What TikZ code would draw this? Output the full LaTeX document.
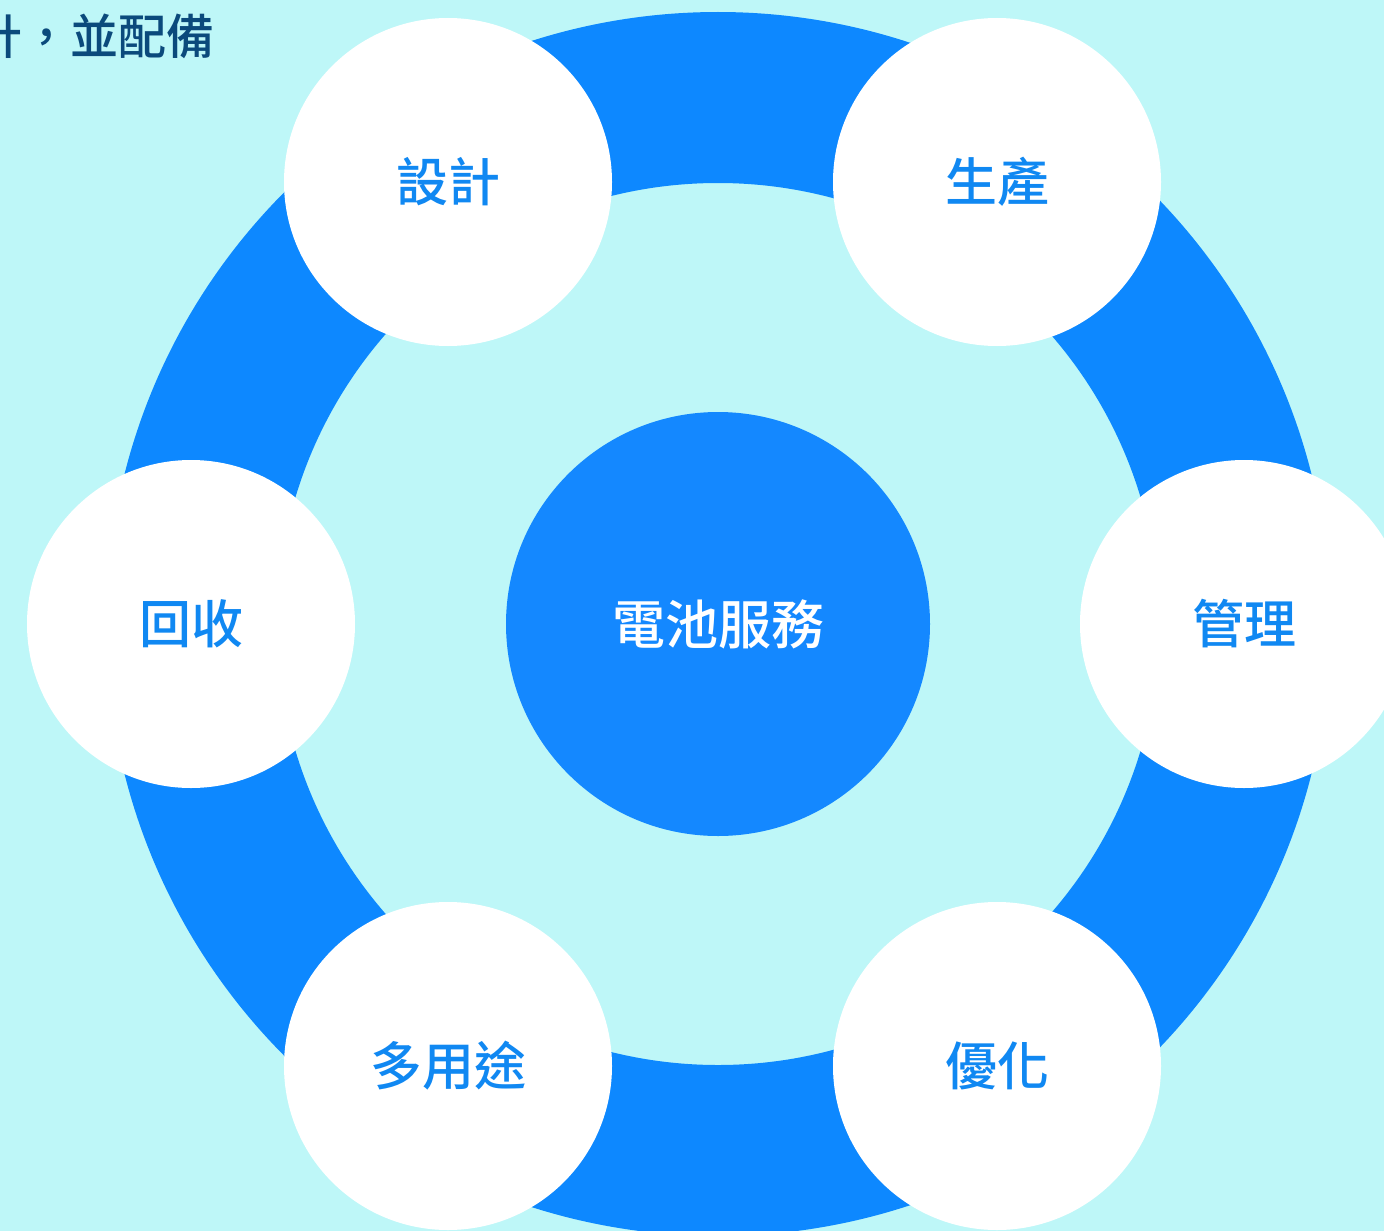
\documentclass[tikz,border=0pt]{standalone}
\usepackage{fontspec}
\newfontfamily\cjk[UprightFont={* Medium}]{Noto Sans CJK TC}
\definecolor{bg}{HTML}{BEF7F8}
\definecolor{ring}{HTML}{0D88FF}
\definecolor{hub}{HTML}{1488FF}
\definecolor{lbl}{HTML}{1088F2}
\definecolor{dark}{HTML}{0B4A7C}
\tikzset{
  stage/.style={circle, fill=white, minimum size=328pt, inner sep=0pt, text=lbl, font=\cjk\fontsize{52}{60}\selectfont},
  hubnode/.style={circle, fill=hub, minimum size=424pt, inner sep=0pt, text=white, font=\cjk\fontsize{53}{60}\selectfont}
}
\begin{document}
\begin{tikzpicture}[x=1pt,y=-1pt]
\useasboundingbox (0,0) rectangle (1384,1231);
\clip (0,0) rectangle (1384,1231);
\fill[bg] (0,0) rectangle (1384,1231);
\node[anchor=west, text=dark, font=\cjk\fontsize{48}{55}\selectfont, inner sep=0pt] (intro) at (-26,36) {計，並配備};
\draw[ring, line width=171pt] (718,624) circle[radius=526.5];
\node[hubnode] (hub) at (718,624) {電池服務};
\node[stage] (design) at (448,182) {設計};
\node[stage] (produce) at (997,182) {生產};
\node[stage] (manage) at (1244,624) {管理};
\node[stage] (optim) at (997,1066) {優化};
\node[stage] (multi) at (448,1066) {多用途};
\node[stage] (recycle) at (191,624) {回收};
\end{tikzpicture}
\end{document}
